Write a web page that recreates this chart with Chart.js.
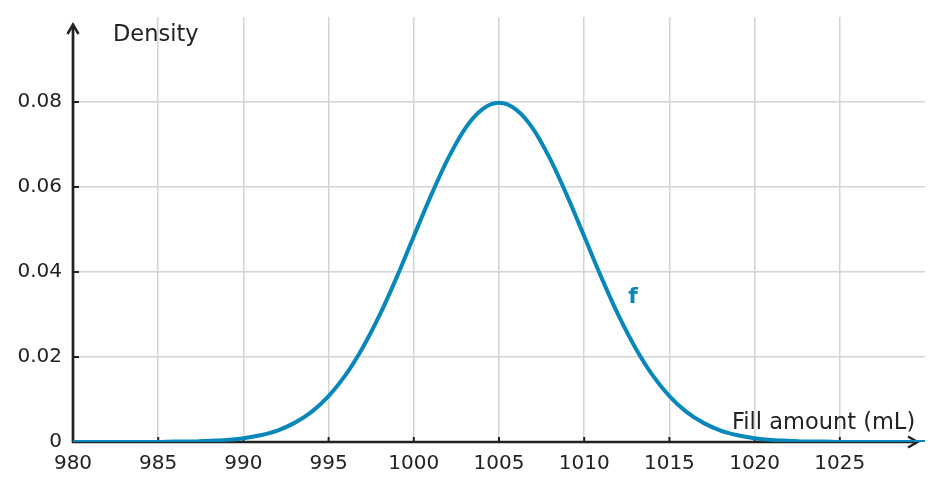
<!DOCTYPE html>
<html>
<head>
<meta charset="utf-8">
<script src="https://cdn.jsdelivr.net/npm/chart.js@4.4.1/dist/chart.umd.min.js"></script>
<style>
html,body{margin:0;padding:0;background:#fff;}
#wrap{width:942px;height:491px;position:relative;}
</style>
</head>
<body>
<div id="wrap"><canvas id="c" width="942" height="491"></canvas></div>
<script>
// Fill amount (mL) sampled every 1 mL
const fillAmounts = [980,981,982,983,984,985,986,987,988,989,990,991,992,993,994,995,996,997,998,999,1000,1001,1002,1003,1004,1005,1006,1007,1008,1009,1010,1011,1012,1013,1014,1015,1016,1017,1018,1019,1020,1021,1022,1023,1024,1025,1026,1027,1028,1029,1030];
// Density values
const densities = [0,0,0,0,0,0.0000,0.0001,0.0001,0.0003,0.0005,0.0009,0.0016,0.0027,0.0045,0.0071,0.0108,0.0158,0.0222,0.0299,0.0388,0.0484,0.0579,0.0666,0.0737,0.0782,0.0798,0.0782,0.0737,0.0666,0.0579,0.0484,0.0388,0.0299,0.0222,0.0158,0.0108,0.0071,0.0045,0.0027,0.0016,0.0009,0.0005,0.0003,0.0001,0.0001,0.0000,0,0,0,0,0];
const xTickLabels = [980,985,990,995,1000,1005,1010,1015,1020,1025];
const yTickLabels = [0,0.02,0.04,0.06,0.08];
const xTitle = "Fill amount (mL)";
const yTitle = "Density";
const seriesLabel = "f";

const CURVE = '#0887bb';
const AXIS = '#222222';
const GRID = '#d4d4d4';
const FONT = "'DejaVu Sans', sans-serif";

const axesPlugin = {
  id: 'axes',
  beforeDatasetsDraw(chart) {
    const {ctx, scales: {x, y}} = chart;
    ctx.save();
    ctx.strokeStyle = AXIS;
    ctx.lineWidth = 2.7;
    ctx.lineCap = 'butt';
    const x0 = x.getPixelForValue(980), y0 = y.getPixelForValue(0);
    // y axis
    ctx.beginPath();
    ctx.moveTo(x0, y0 + 1);
    ctx.lineTo(x0, 25);
    ctx.stroke();
    // x axis
    ctx.beginPath();
    ctx.moveTo(x0 - 1, y0);
    ctx.lineTo(916, y0);
    ctx.stroke();
    // arrow heads
    ctx.lineWidth = 2.5;
    ctx.lineJoin = 'miter';
    ctx.beginPath();
    ctx.moveTo(x0 - 5.5, 34);
    ctx.lineTo(x0, 24.5);
    ctx.lineTo(x0 + 5.5, 34);
    ctx.stroke();
    ctx.beginPath();
    ctx.moveTo(908, y0 - 5.5);
    ctx.lineTo(917.5, y0);
    ctx.lineTo(908, y0 + 5.5);
    ctx.stroke();
    // tick marks
    ctx.lineWidth = 2;
    xTickLabels.forEach(v => {
      if (v === 980) return;
      const px = x.getPixelForValue(v);
      ctx.beginPath(); ctx.moveTo(px, y0); ctx.lineTo(px, y0 - 5); ctx.stroke();
    });
    yTickLabels.forEach(v => {
      if (v === 0) return;
      const py = y.getPixelForValue(v);
      ctx.beginPath(); ctx.moveTo(x0, py); ctx.lineTo(x0 + 6, py); ctx.stroke();
    });
    ctx.restore();
  },
  afterDatasetsDraw(chart) {
    const {ctx} = chart;
    ctx.save();
    ctx.fillStyle = AXIS;
    ctx.textBaseline = 'alphabetic';
    ctx.textAlign = 'left';
    ctx.font = "22.5px " + FONT;
    ctx.fillText(yTitle, 113, 41);
    ctx.fillText(xTitle, 732, 429);
    ctx.fillStyle = CURVE;
    ctx.font = "bold 22px " + FONT;
    ctx.textAlign = 'center';
    ctx.fillText(seriesLabel, 633, 303);
    ctx.restore();
  }
};

new Chart(document.getElementById('c'), {
  type: 'line',
  data: {
    datasets: [{
      label: seriesLabel,
      data: fillAmounts.map((v, i) => ({x: v, y: densities[i]})),
      borderColor: CURVE,
      borderWidth: 4,
      pointRadius: 0,
      fill: false,
      cubicInterpolationMode: 'monotone'
    }]
  },
  options: {
    responsive: false,
    animation: false,
    devicePixelRatio: 1,
    layout: {padding: {top: 17, right: 17, left: 0, bottom: 0}},
    plugins: {legend: {display: false}, tooltip: {enabled: false}},
    scales: {
      x: {
        type: 'linear',
        min: 980, max: 1030,
        afterFit(s) { s.height = 49; s.paddingLeft = 0; s.paddingRight = 0; },
        afterBuildTicks(s) { s.ticks = xTickLabels.concat([1030]).map(v => ({value: v})); },
        border: {display: false},
        grid: {
          drawTicks: false,
          lineWidth: 1.5,
          color: ctx => (ctx.tick && (ctx.tick.value === 980 || ctx.tick.value === 1030)) ? 'rgba(0,0,0,0)' : GRID
        },
        ticks: {
          padding: 10,
          maxRotation: 0,
          autoSkip: false,
          color: AXIS,
          font: {family: FONT, size: 20},
          callback: v => xTickLabels.includes(v) ? String(v) : ''
        }
      },
      y: {
        type: 'linear',
        min: 0, max: 0.1,
        afterFit(s) { s.width = 73; s.paddingTop = 0; s.paddingBottom = 0; },
        afterBuildTicks(s) { s.ticks = yTickLabels.concat([0.1]).map(v => ({value: v})); },
        border: {display: false},
        grid: {
          drawTicks: false,
          lineWidth: 1.5,
          color: ctx => (ctx.tick && (ctx.tick.value === 0 || ctx.tick.value === 0.1)) ? 'rgba(0,0,0,0)' : GRID
        },
        ticks: {
          padding: 11,
          autoSkip: false,
          color: AXIS,
          font: {family: FONT, size: 20},
          callback: v => yTickLabels.includes(v) ? String(v) : ''
        }
      }
    }
  },
  plugins: [axesPlugin]
});
</script>
</body>
</html>
